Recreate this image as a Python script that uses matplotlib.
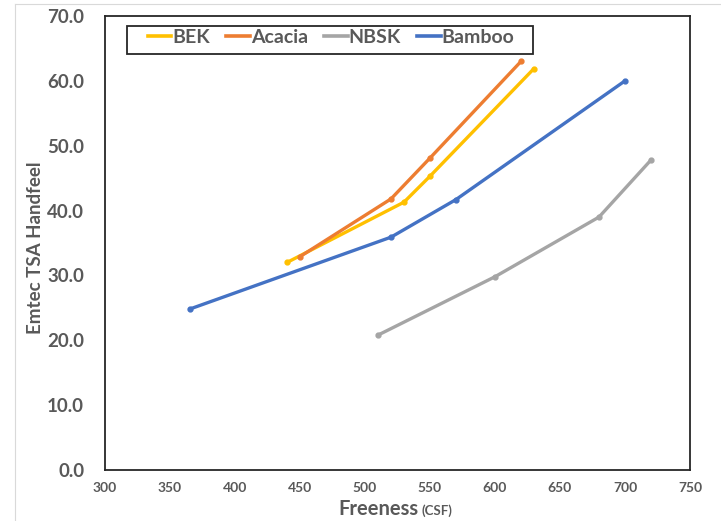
import matplotlib.pyplot as plt
from matplotlib.lines import Line2D
from matplotlib.patches import Rectangle

plt.rcParams['font.family'] = ['Lato', 'DejaVu Sans']

# data
bek_x = [440, 530, 550, 630]
bek_y = [32.0, 41.3, 45.3, 61.9]
acacia_x = [450, 520, 550, 620]
acacia_y = [32.9, 41.8, 48.1, 63.0]
nbsk_x = [510, 600, 680, 720]
nbsk_y = [20.8, 29.8, 39.0, 47.8]
bamboo_x = [365, 520, 570, 700]
bamboo_y = [24.8, 35.9, 41.7, 60.0]

x_ticks = [300, 350, 400, 450, 500, 550, 600, 650, 700, 750]
y_ticks = [0, 10, 20, 30, 40, 50, 60, 70]

series = [
    ("BEK", bek_x, bek_y, "#FFC000"),
    ("Acacia", acacia_x, acacia_y, "#ED7D31"),
    ("NBSK", nbsk_x, nbsk_y, "#A5A5A5"),
    ("Bamboo", bamboo_x, bamboo_y, "#4472C4"),
]
grey = '#595959'
W, H = 721, 521

fig = plt.figure(figsize=(7.21, 5.21), dpi=100)
ax = fig.add_axes([105 / W, 1 - 470 / H, 585 / W, 454 / H])

for name, xs, ys, col in series:
    ax.plot(xs, ys, color=col, lw=2.4, marker='o', ms=3.5, label=name,
            solid_capstyle='round')

ax.set_xlim(300, 750)
ax.set_ylim(0, 70)
ax.set_xticks(x_ticks)
ax.set_yticks(y_ticks)
ax.set_yticklabels([f"{v:.1f}" for v in y_ticks])
ax.tick_params(length=0, colors=grey)
for lab in ax.get_yticklabels():
    lab.set_fontsize(13.5)
    lab.set_fontweight('bold')
for lab in ax.get_xticklabels():
    lab.set_fontsize(10)
    lab.set_fontweight('bold')
ax.tick_params(axis='y', pad=15)
ax.tick_params(axis='x', pad=9)

for sp in ax.spines.values():
    sp.set_color('#262626')
    sp.set_linewidth(1.3)

fig.text(36 / W, 1 - 248 / H, "Emtec TSA Handfeel", rotation=90,
         fontsize=13.5, fontweight='bold', color=grey, ha='center', va='center')
fig.text(419 / W, 1 - 515 / H, "Freeness", fontsize=14.5, fontweight='bold',
         color=grey, ha='right', va='baseline')
fig.text(422 / W, 1 - 515 / H, "(CSF)", fontsize=9.5, fontweight='bold',
         color=grey, ha='left', va='baseline')

# legend (box drawn separately)
handles = [Line2D([], [], color=c, lw=2.6) for _, _, _, c in series]
leg = ax.legend(handles, [s[0] for s in series], ncol=4, loc='upper left',
                bbox_to_anchor=((148 - 105) / 585, (470 - 29) / 454),
                borderaxespad=0, frameon=False,
                handlelength=1.2, handletextpad=0.05, columnspacing=0.85,
                borderpad=0, prop={'weight': 'bold', 'size': 14})
for t in leg.get_texts():
    t.set_color(grey)
fig.add_artist(Rectangle((127 / W, 1 - 54 / H), 406 / W, 28 / H,
                         transform=fig.transFigure, fill=False,
                         edgecolor='#262626', lw=1.3))

# thin outer borders from the screenshot
fig.add_artist(Line2D([15 / W, 1], [1 - 4 / H, 1 - 4 / H], color='#d9d9d9', lw=0.8))
fig.add_artist(Line2D([15 / W, 15 / W], [0, 1 - 4 / H], color='#d9d9d9', lw=0.8))

fig.savefig("out.png", dpi=100)
